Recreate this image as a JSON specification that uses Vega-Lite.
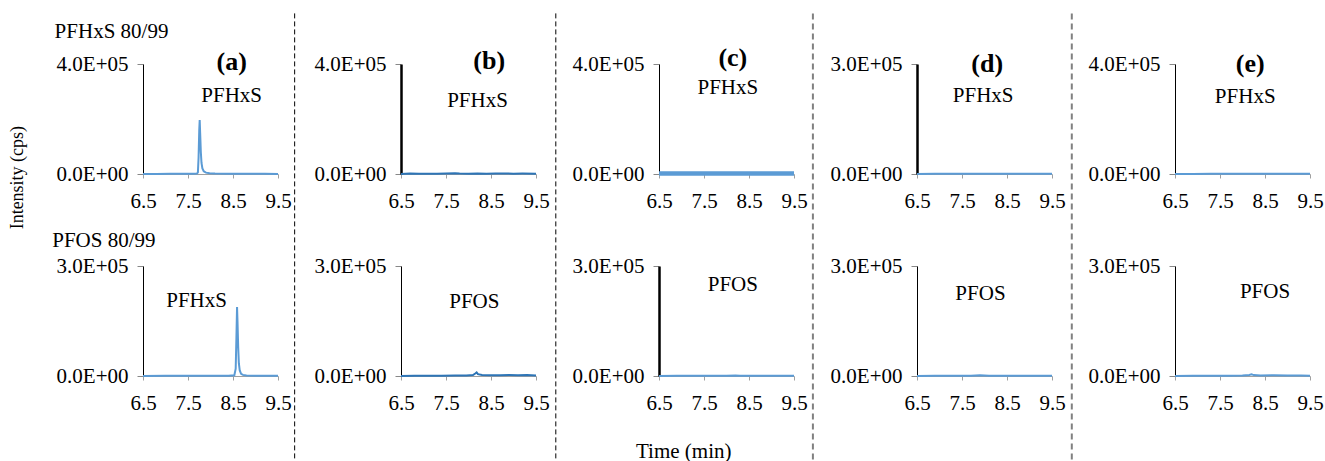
{
"$schema":"https://vega.github.io/schema/vega-lite/v6.json",
"padding":{"left":8,"top":12,"right":0,"bottom":0},
"config":{
 "font":"Liberation Serif",
 "view":{"stroke":null},
 "axis":{"grid":false,"labelFont":"Liberation Serif","labelFontSize":21,"labelColor":"black"},
 "axisX":{"domainColor":"#a0a0a0","tickColor":"#a0a0a0","tickSize":4,"labelPadding":12,"labelFlush":false,"labelOverlap":false},
 "axisY":{"domainColor":"black","tickColor":"#888888","tickSize":6,"labelPadding":9,"labelOverlap":false,"labelExpr":"datum.value == 0 ? '0.0E+00' : format(datum.value/100000,'.1f') + 'E+05'"},
 "text":{"font":"Liberation Serif","fontSize":21,"color":"black"},
 "line":{"strokeWidth":2,"color":"#5b9bd5"}
},
"datasets":{"tr":[
{"p":"a1","t":6.5,"v":0},{"p":"a1","t":6.8,"v":300},{"p":"a1","t":7.1,"v":500},{"p":"a1","t":7.4,"v":600},{"p":"a1","t":7.6,"v":800},{"p":"a1","t":7.7,"v":1500},{"p":"a1","t":7.72,"v":6000},{"p":"a1","t":7.735,"v":60000},{"p":"a1","t":7.75,"v":160000},{"p":"a1","t":7.76,"v":196000},{"p":"a1","t":7.77,"v":150000},{"p":"a1","t":7.785,"v":80000},{"p":"a1","t":7.8,"v":40000},{"p":"a1","t":7.82,"v":20000},{"p":"a1","t":7.85,"v":10000},{"p":"a1","t":7.9,"v":5000},{"p":"a1","t":7.98,"v":2500},{"p":"a1","t":8.1,"v":1500},{"p":"a1","t":8.4,"v":900},{"p":"a1","t":8.8,"v":700},{"p":"a1","t":9.2,"v":500},{"p":"a1","t":9.5,"v":400},
{"p":"a2","t":6.5,"v":0},{"p":"a2","t":7.0,"v":400},{"p":"a2","t":7.5,"v":500},{"p":"a2","t":8.0,"v":700},{"p":"a2","t":8.4,"v":900},{"p":"a2","t":8.53,"v":2000},{"p":"a2","t":8.56,"v":20000},{"p":"a2","t":8.575,"v":100000},{"p":"a2","t":8.59,"v":188000},{"p":"a2","t":8.6,"v":150000},{"p":"a2","t":8.615,"v":80000},{"p":"a2","t":8.63,"v":35000},{"p":"a2","t":8.65,"v":15000},{"p":"a2","t":8.68,"v":6000},{"p":"a2","t":8.72,"v":3000},{"p":"a2","t":8.8,"v":1500},{"p":"a2","t":9.0,"v":800},{"p":"a2","t":9.5,"v":500},
{"p":"b1","t":6.5,"v":0},{"p":"b1","t":6.7,"v":1500},{"p":"b1","t":6.9,"v":800},{"p":"b1","t":7.1,"v":1200},{"p":"b1","t":7.3,"v":900},{"p":"b1","t":7.5,"v":1600},{"p":"b1","t":7.7,"v":2500},{"p":"b1","t":7.8,"v":1500},{"p":"b1","t":8.0,"v":1200},{"p":"b1","t":8.2,"v":1800},{"p":"b1","t":8.4,"v":1000},{"p":"b1","t":8.6,"v":1400},{"p":"b1","t":8.8,"v":2200},{"p":"b1","t":9.0,"v":1200},{"p":"b1","t":9.2,"v":1500},{"p":"b1","t":9.5,"v":900},
{"p":"b2","t":6.5,"v":0},{"p":"b2","t":6.8,"v":600},{"p":"b2","t":7.1,"v":900},{"p":"b2","t":7.4,"v":700},{"p":"b2","t":7.7,"v":1100},{"p":"b2","t":7.95,"v":1500},{"p":"b2","t":8.1,"v":2500},{"p":"b2","t":8.15,"v":7000},{"p":"b2","t":8.18,"v":10000},{"p":"b2","t":8.21,"v":5000},{"p":"b2","t":8.3,"v":2500},{"p":"b2","t":8.5,"v":1800},{"p":"b2","t":8.7,"v":2200},{"p":"b2","t":8.9,"v":3000},{"p":"b2","t":9.1,"v":2000},{"p":"b2","t":9.3,"v":2400},{"p":"b2","t":9.5,"v":1500},
{"p":"c1","t":6.5,"v":1500},{"p":"c1","t":6.8,"v":2000},{"p":"c1","t":7.1,"v":1800},{"p":"c1","t":7.4,"v":2200},{"p":"c1","t":7.7,"v":1900},{"p":"c1","t":8.0,"v":2100},{"p":"c1","t":8.3,"v":1800},{"p":"c1","t":8.6,"v":2000},{"p":"c1","t":8.9,"v":2200},{"p":"c1","t":9.2,"v":1900},{"p":"c1","t":9.5,"v":2000},
{"p":"c2","t":6.5,"v":0},{"p":"c2","t":6.9,"v":400},{"p":"c2","t":7.3,"v":600},{"p":"c2","t":7.7,"v":500},{"p":"c2","t":8.0,"v":800},{"p":"c2","t":8.2,"v":1500},{"p":"c2","t":8.3,"v":900},{"p":"c2","t":8.6,"v":700},{"p":"c2","t":9.0,"v":900},{"p":"c2","t":9.5,"v":600},
{"p":"d1","t":6.5,"v":0},{"p":"d1","t":6.9,"v":500},{"p":"d1","t":7.3,"v":700},{"p":"d1","t":7.7,"v":900},{"p":"d1","t":8.1,"v":800},{"p":"d1","t":8.5,"v":700},{"p":"d1","t":8.9,"v":900},{"p":"d1","t":9.2,"v":700},{"p":"d1","t":9.5,"v":600},
{"p":"d2","t":6.5,"v":0},{"p":"d2","t":6.9,"v":400},{"p":"d2","t":7.3,"v":600},{"p":"d2","t":7.7,"v":1000},{"p":"d2","t":7.9,"v":1800},{"p":"d2","t":8.1,"v":1000},{"p":"d2","t":8.4,"v":800},{"p":"d2","t":8.8,"v":900},{"p":"d2","t":9.2,"v":700},{"p":"d2","t":9.5,"v":600},
{"p":"e1","t":6.5,"v":0},{"p":"e1","t":6.9,"v":400},{"p":"e1","t":7.3,"v":500},{"p":"e1","t":7.7,"v":600},{"p":"e1","t":8.1,"v":700},{"p":"e1","t":8.5,"v":600},{"p":"e1","t":8.9,"v":700},{"p":"e1","t":9.2,"v":600},{"p":"e1","t":9.5,"v":500},
{"p":"e2","t":6.5,"v":0},{"p":"e2","t":6.9,"v":500},{"p":"e2","t":7.3,"v":700},{"p":"e2","t":7.7,"v":800},{"p":"e2","t":8.0,"v":1200},{"p":"e2","t":8.15,"v":3000},{"p":"e2","t":8.2,"v":4500},{"p":"e2","t":8.25,"v":2500},{"p":"e2","t":8.4,"v":1500},{"p":"e2","t":8.7,"v":1800},{"p":"e2","t":9.0,"v":1500},{"p":"e2","t":9.3,"v":1200},{"p":"e2","t":9.5,"v":900}
]},
"spacing":258,
"bounds":"flush",
"hconcat":[
 {"spacing":92,"bounds":"flush","vconcat":[
  {"width":135,"height":110,"layer":[
   {"data":{"name":"tr"},"transform":[{"filter":"datum.p=='a1'"}],"mark":{"type":"line"},
    "encoding":{"x":{"field":"t","type":"quantitative","title":null,"scale":{"domain":[6.5,9.5],"nice":false},"axis":{"values":[6.5,7.5,8.5,9.5],"format":".1f"}},
                "y":{"field":"v","type":"quantitative","title":null,"scale":{"domain":[0,400000],"nice":false},"axis":{"values":[0,400000]}}}},
   {"data":{"values":[{}]},"mark":{"type":"text","text":"(a)","fontSize":26,"fontWeight":"bold"},"encoding":{"x":{"datum":8.47},"y":{"datum":406000}}},
   {"data":{"values":[{}]},"mark":{"type":"text","text":"PFHxS"},"encoding":{"x":{"datum":8.47},"y":{"datum":283000}}},
   {"data":{"values":[{}]},"mark":{"type":"text","text":"PFHxS 80/99"},"encoding":{"x":{"datum":5.80},"y":{"datum":515000}}},
   {"data":{"values":[{}]},"mark":{"type":"rule","strokeDash":[5,3],"color":"black","strokeWidth":1},"encoding":{"x":{"datum":9.87},"y":{"datum":584000},"y2":{"datum":-1100000}}}
  ]},
  {"width":135,"height":110,"layer":[
   {"data":{"name":"tr"},"transform":[{"filter":"datum.p=='a2'"}],"mark":{"type":"line"},
    "encoding":{"x":{"field":"t","type":"quantitative","title":null,"scale":{"domain":[6.5,9.5],"nice":false},"axis":{"values":[6.5,7.5,8.5,9.5],"format":".1f"}},
                "y":{"field":"v","type":"quantitative","title":null,"scale":{"domain":[0,300000],"nice":false},"axis":{"values":[0,300000]}}}},
   {"data":{"values":[{}]},"mark":{"type":"text","text":"PFHxS"},"encoding":{"x":{"datum":7.69},"y":{"datum":204000}}},
   {"data":{"values":[{}]},"mark":{"type":"text","text":"PFOS 80/99"},"encoding":{"x":{"datum":5.63},"y":{"datum":368000}}},
   {"data":{"values":[{}]},"mark":{"type":"text","text":"Intensity (cps)","angle":270,"fontSize":18},"encoding":{"x":{"datum":3.72},"y":{"datum":541000}}}
  ]}
 ]},
 {"spacing":92,"bounds":"flush","vconcat":[
  {"width":135,"height":110,"layer":[
   {"data":{"name":"tr"},"transform":[{"filter":"datum.p=='b1'"}],"mark":{"type":"line","color":"#2e75b6"},
    "encoding":{"x":{"field":"t","type":"quantitative","title":null,"scale":{"domain":[6.5,9.5],"nice":false},"axis":{"values":[6.5,7.5,8.5,9.5],"format":".1f"}},
                "y":{"field":"v","type":"quantitative","title":null,"scale":{"domain":[0,400000],"nice":false},"axis":{"values":[0,400000],"domainWidth":2.5}}}},
   {"data":{"values":[{}]},"mark":{"type":"text","text":"(b)","fontSize":26,"fontWeight":"bold"},"encoding":{"x":{"datum":8.46},"y":{"datum":410000}}},
   {"data":{"values":[{}]},"mark":{"type":"text","text":"PFHxS"},"encoding":{"x":{"datum":8.20},"y":{"datum":264000}}},
   {"data":{"values":[{}]},"mark":{"type":"rule","strokeDash":[5,3],"color":"black","strokeWidth":1},"encoding":{"x":{"datum":9.94},"y":{"datum":584000},"y2":{"datum":-1100000}}}
  ]},
  {"width":135,"height":110,"layer":[
   {"data":{"name":"tr"},"transform":[{"filter":"datum.p=='b2'"}],"mark":{"type":"line","color":"#2e75b6"},
    "encoding":{"x":{"field":"t","type":"quantitative","title":null,"scale":{"domain":[6.5,9.5],"nice":false},"axis":{"values":[6.5,7.5,8.5,9.5],"format":".1f"}},
                "y":{"field":"v","type":"quantitative","title":null,"scale":{"domain":[0,300000],"nice":false},"axis":{"values":[0,300000]}}}},
   {"data":{"values":[{}]},"mark":{"type":"text","text":"PFOS"},"encoding":{"x":{"datum":8.13},"y":{"datum":201000}}}
  ]}
 ]},
 {"spacing":92,"bounds":"flush","vconcat":[
  {"width":135,"height":110,"layer":[
   {"data":{"name":"tr"},"transform":[{"filter":"datum.p=='c1'"}],"mark":{"type":"line","strokeWidth":4.5},
    "encoding":{"x":{"field":"t","type":"quantitative","title":null,"scale":{"domain":[6.5,9.5],"nice":false},"axis":{"values":[6.5,7.5,8.5,9.5],"format":".1f"}},
                "y":{"field":"v","type":"quantitative","title":null,"scale":{"domain":[0,400000],"nice":false},"axis":{"values":[0,400000]}}}},
   {"data":{"values":[{}]},"mark":{"type":"text","text":"(c)","fontSize":26,"fontWeight":"bold"},"encoding":{"x":{"datum":8.14},"y":{"datum":421000}}},
   {"data":{"values":[{}]},"mark":{"type":"text","text":"PFHxS"},"encoding":{"x":{"datum":8.03},"y":{"datum":312000}}},
   {"data":{"values":[{}]},"mark":{"type":"rule","strokeDash":[6,4],"color":"#808080","strokeWidth":2},"encoding":{"x":{"datum":9.92},"y":{"datum":584000},"y2":{"datum":-1100000}}}
  ]},
  {"width":135,"height":110,"layer":[
   {"data":{"name":"tr"},"transform":[{"filter":"datum.p=='c2'"}],"mark":{"type":"line"},
    "encoding":{"x":{"field":"t","type":"quantitative","title":null,"scale":{"domain":[6.5,9.5],"nice":false},"axis":{"values":[6.5,7.5,8.5,9.5],"format":".1f"}},
                "y":{"field":"v","type":"quantitative","title":null,"scale":{"domain":[0,300000],"nice":false},"axis":{"values":[0,300000],"domainWidth":2.5}}}},
   {"data":{"values":[{}]},"mark":{"type":"text","text":"PFOS"},"encoding":{"x":{"datum":8.14},"y":{"datum":248000}}},
   {"data":{"values":[{}]},"mark":{"type":"text","text":"Time (min)"},"encoding":{"x":{"datum":7.05},"y":{"datum":-207000}}}
  ]}
 ]},
 {"spacing":92,"bounds":"flush","vconcat":[
  {"width":135,"height":110,"layer":[
   {"data":{"name":"tr"},"transform":[{"filter":"datum.p=='d1'"}],"mark":{"type":"line"},
    "encoding":{"x":{"field":"t","type":"quantitative","title":null,"scale":{"domain":[6.5,9.5],"nice":false},"axis":{"values":[6.5,7.5,8.5,9.5],"format":".1f"}},
                "y":{"field":"v","type":"quantitative","title":null,"scale":{"domain":[0,300000],"nice":false},"axis":{"values":[0,300000],"domainWidth":2.5}}}},
   {"data":{"values":[{}]},"mark":{"type":"text","text":"(d)","fontSize":26,"fontWeight":"bold"},"encoding":{"x":{"datum":8.06},"y":{"datum":299000}}},
   {"data":{"values":[{}]},"mark":{"type":"text","text":"PFHxS"},"encoding":{"x":{"datum":7.97},"y":{"datum":212000}}},
   {"data":{"values":[{}]},"mark":{"type":"rule","strokeDash":[6,4],"color":"#808080","strokeWidth":2},"encoding":{"x":{"datum":9.94},"y":{"datum":438000},"y2":{"datum":-830000}}}
  ]},
  {"width":135,"height":110,"layer":[
   {"data":{"name":"tr"},"transform":[{"filter":"datum.p=='d2'"}],"mark":{"type":"line"},
    "encoding":{"x":{"field":"t","type":"quantitative","title":null,"scale":{"domain":[6.5,9.5],"nice":false},"axis":{"values":[6.5,7.5,8.5,9.5],"format":".1f"}},
                "y":{"field":"v","type":"quantitative","title":null,"scale":{"domain":[0,300000],"nice":false},"axis":{"values":[0,300000]}}}},
   {"data":{"values":[{}]},"mark":{"type":"text","text":"PFOS"},"encoding":{"x":{"datum":7.91},"y":{"datum":223000}}}
  ]}
 ]},
 {"spacing":92,"bounds":"flush","vconcat":[
  {"width":135,"height":110,"layer":[
   {"data":{"name":"tr"},"transform":[{"filter":"datum.p=='e1'"}],"mark":{"type":"line"},
    "encoding":{"x":{"field":"t","type":"quantitative","title":null,"scale":{"domain":[6.5,9.5],"nice":false},"axis":{"values":[6.5,7.5,8.5,9.5],"format":".1f"}},
                "y":{"field":"v","type":"quantitative","title":null,"scale":{"domain":[0,400000],"nice":false},"axis":{"values":[0,400000]}}}},
   {"data":{"values":[{}]},"mark":{"type":"text","text":"(e)","fontSize":26,"fontWeight":"bold"},"encoding":{"x":{"datum":8.17},"y":{"datum":399000}}},
   {"data":{"values":[{}]},"mark":{"type":"text","text":"PFHxS"},"encoding":{"x":{"datum":8.06},"y":{"datum":279000}}}
  ]},
  {"width":135,"height":110,"layer":[
   {"data":{"name":"tr"},"transform":[{"filter":"datum.p=='e2'"}],"mark":{"type":"line"},
    "encoding":{"x":{"field":"t","type":"quantitative","title":null,"scale":{"domain":[6.5,9.5],"nice":false},"axis":{"values":[6.5,7.5,8.5,9.5],"format":".1f"}},
                "y":{"field":"v","type":"quantitative","title":null,"scale":{"domain":[0,300000],"nice":false},"axis":{"values":[0,300000]}}}},
   {"data":{"values":[{}]},"mark":{"type":"text","text":"PFOS"},"encoding":{"x":{"datum":8.5},"y":{"datum":229000}}}
  ]}
 ]}
]
}
